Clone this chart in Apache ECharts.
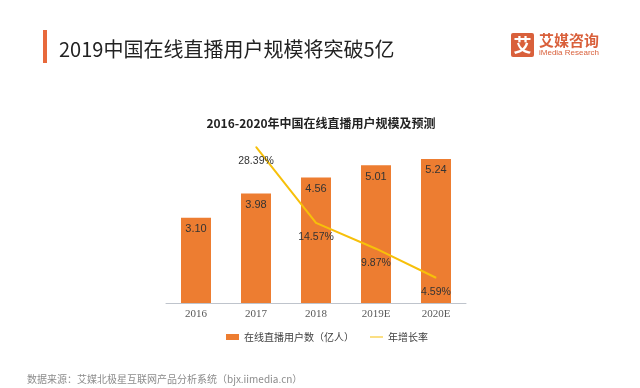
<!DOCTYPE html>
<html>
<head>
<meta charset="utf-8">
<script src="https://cdn.jsdelivr.net/npm/echarts@6/dist/echarts.min.js"></script>
<style>html,body{margin:0;padding:0;background:#fff;}#c{width:640px;height:388px;}</style>
</head>
<body>
<div id="c"></div>
<script>
const categories = ['2016', '2017', '2018', '2019E', '2020E'];
const users = [3.10, 3.98, 4.56, 5.01, 5.24];
const growth = [null, 28.39, 14.57, 9.87, 4.59];
const seriesNames = ['在线直播用户数（亿人）', '年增长率'];

const chart = echarts.init(document.getElementById('c'));
const cjk = '"Noto Sans CJK SC", "Noto Sans", sans-serif';
const lineColor = '#F7C00A';
chart.setOption({
  animation: false,
  backgroundColor: '#ffffff',
  title: [
    { text: '2019中国在线直播用户规模将突破5亿', left: 54, top: 34,
      textStyle: { fontFamily: cjk, fontSize: 20, fontWeight: 'normal', color: '#222222' } },
    { text: '2016-2020年中国在线直播用户规模及预测', top: 112, left: 316, textAlign: 'center',
      textStyle: { fontFamily: cjk, fontSize: 12, fontWeight: 'bold', color: '#222222' } },
    { text: '数据来源：艾媒北极星互联网产品分析系统（bjx.iimedia.cn）', left: 22, top: 369,
      textStyle: { fontFamily: cjk, fontSize: 10, fontWeight: 'normal', color: '#8c8c8c' } }
  ],
  graphic: [
    { type: 'rect', shape: { x: 43, y: 30, width: 4, height: 33 }, style: { fill: '#E8693C' } },
    { type: 'rect', shape: { x: 511, y: 33, width: 23, height: 24, r: 2 }, style: { fill: '#D9603B' } },
    { type: 'text', x: 522.5, y: 45, style: { text: '艾', fill: '#ffffff', font: 'bold 18px "Noto Sans CJK SC"', align: 'center', verticalAlign: 'middle' } },
    { type: 'text', x: 539, y: 40, style: { text: '艾媒咨询', fill: '#D9603B', font: 'bold 15px "Noto Sans CJK SC"', verticalAlign: 'middle' } },
    { type: 'text', x: 539, y: 53, style: { text: 'iMedia Research', fill: '#D9603B', font: '8px "Liberation Sans"', verticalAlign: 'middle' } }
  ],
  legend: {
    left: 221, top: 327,
    itemWidth: 13, itemHeight: 6, itemGap: 16,
    textStyle: { fontFamily: cjk, fontSize: 10, color: '#404040' },
    data: [
      { name: seriesNames[0], icon: 'rect' },
      { name: seriesNames[1], icon: 'path://M0,0 L13,0 L13,0.1 L0,0.1 Z M0,2.6 L13,2.6 L13,3.4 L0,3.4 Z M0,5.9 L13,5.9 L13,6 L0,6 Z',
        itemStyle: { color: lineColor } }
    ]
  },
  grid: { left: 166, right: 174, top: 138, bottom: 85 },
  xAxis: {
    type: 'category', data: categories,
    axisLine: { lineStyle: { color: '#BFC4CC', width: 1 } },
    axisTick: { show: false },
    axisLabel: { fontFamily: '"Liberation Serif", serif', fontSize: 11, color: '#595959', margin: 6 }
  },
  yAxis: [
    { type: 'value', min: 0, max: 6, show: false, splitLine: { show: false } },
    { type: 'value', min: 0, max: 30, show: false, splitLine: { show: false } }
  ],
  series: [
    {
      name: seriesNames[0], type: 'bar', data: users, barWidth: 30,
      itemStyle: { color: '#ED7D31' },
      label: { show: true, position: 'insideTop', distance: 6, fontSize: 11, color: '#333333',
        fontFamily: '"Liberation Sans", sans-serif', formatter: p => p.value.toFixed(2) }
    },
    {
      name: seriesNames[1], type: 'line', yAxisIndex: 1, data: growth,
      symbol: 'circle', symbolSize: 1, showSymbol: true,
      lineStyle: { color: lineColor, width: 2 }, itemStyle: { color: lineColor },
      label: { show: true, position: 'bottom', distance: 8, fontSize: 10.5, color: '#333333',
        fontFamily: '"Liberation Sans", sans-serif', formatter: p => p.value.toFixed(2) + '%' }
    }
  ]
});
</script>
</body>
</html>
